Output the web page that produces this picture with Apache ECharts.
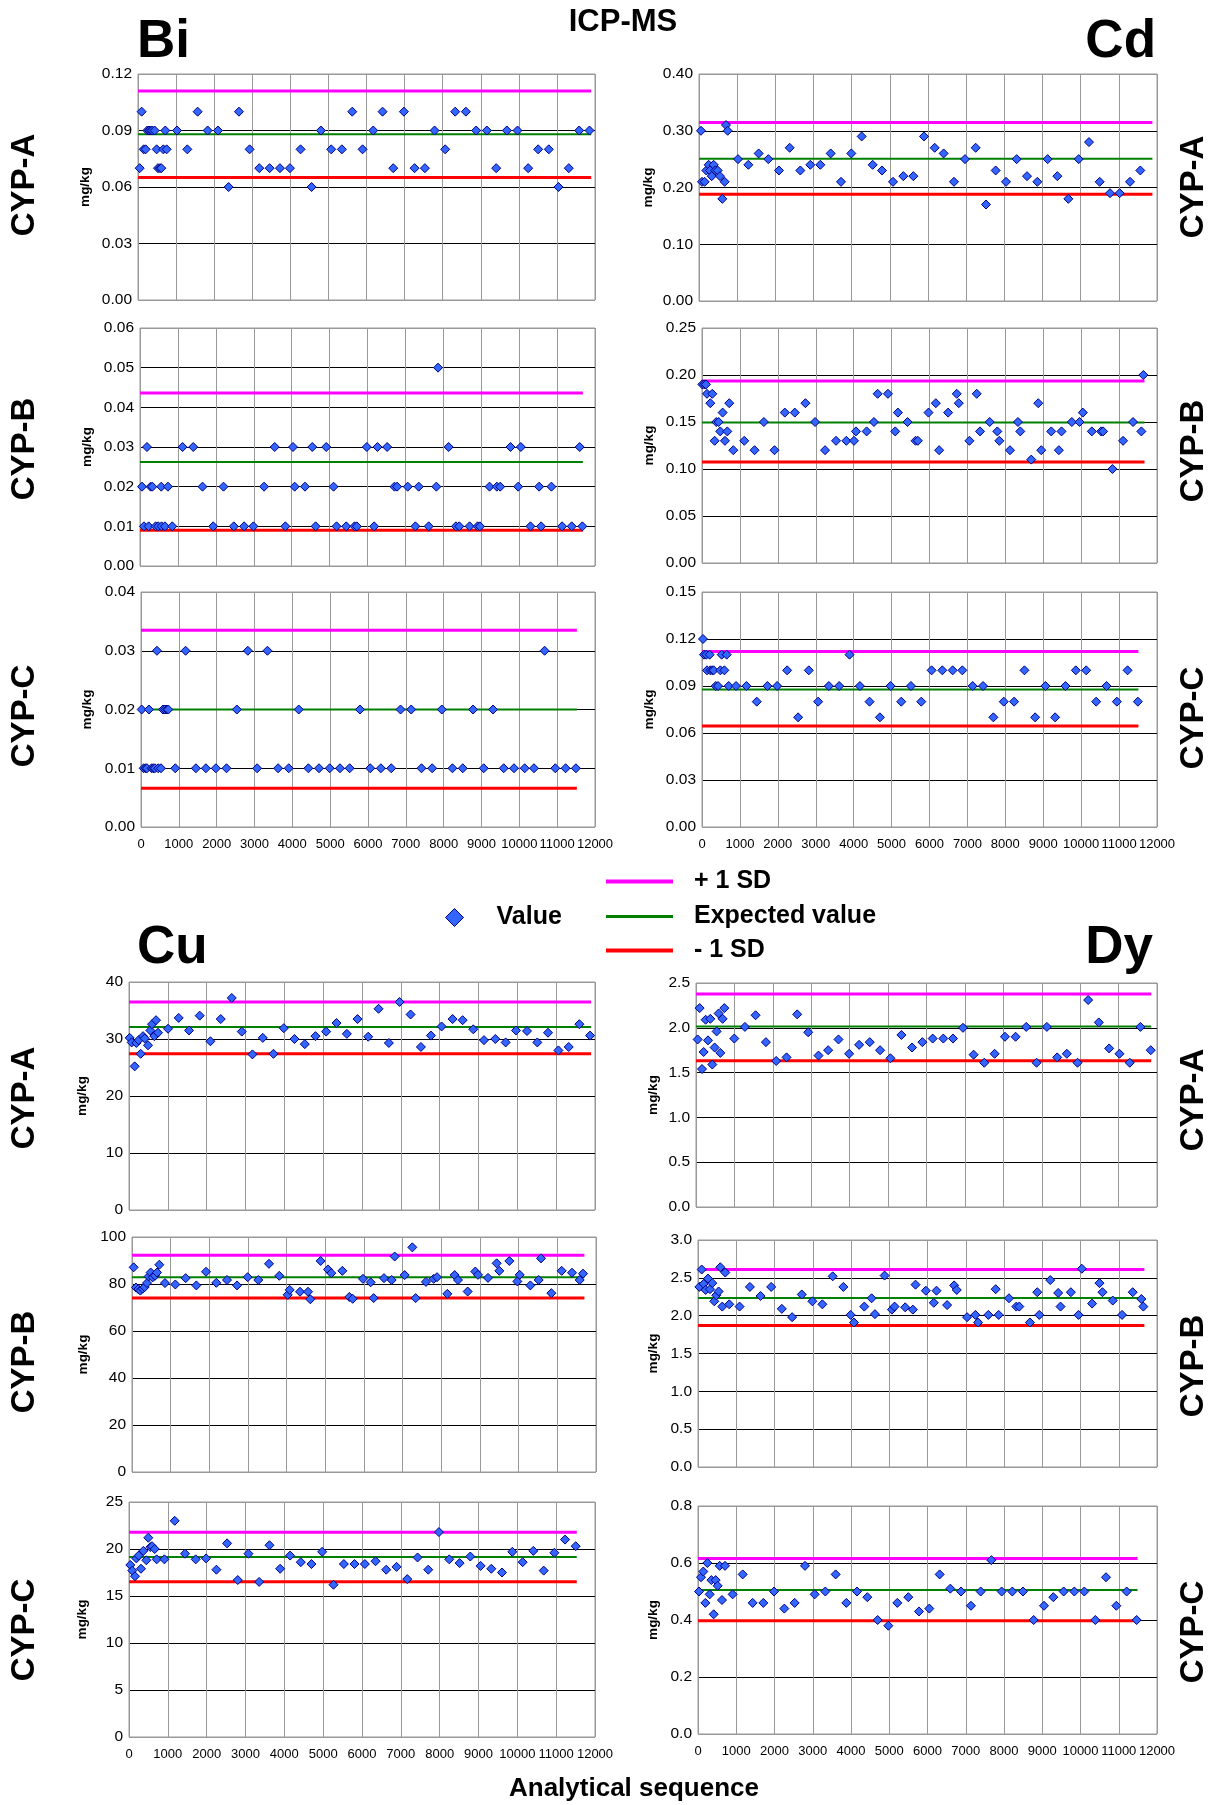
<!DOCTYPE html>
<html><head><meta charset="utf-8">
<script src="https://cdn.jsdelivr.net/npm/echarts@6/dist/echarts.min.js"></script>
<style>html,body{margin:0;padding:0;background:#fff}#c{width:1218px;height:1805px}</style>
</head><body><div id="c"></div>
<script>
// ---------- DATA ----------
const xTicks = [0,1000,2000,3000,4000,5000,6000,7000,8000,9000,10000,11000,12000];
const seriesNames = ['Value','+ 1 SD','Expected value','- 1 SD'];
const rowLabels = ['CYP-A','CYP-B','CYP-C'];

// Bi
const biA_x = [44,96,149,201,245,289,332,376,437,490,525,577,612,665,717,752,1024,1295,1566,1829,2100,2380,2651,2931,3185,3456,3727,3990,4269,4558,4803,5074,5354,5626,5897,6177,6422,6702,6982,7262,7533,7787,8067,8329,8609,8880,9160,9405,9685,9965,10245,10507,10787,11041,11312,11584,11855];
const biA_y = [0.07,0.10,0.08,0.08,0.09,0.09,0.09,0.09,0.09,0.08,0.07,0.07,0.07,0.08,0.09,0.08,0.09,0.08,0.10,0.09,0.09,0.06,0.10,0.08,0.07,0.07,0.07,0.07,0.08,0.06,0.09,0.08,0.08,0.10,0.08,0.09,0.10,0.07,0.10,0.07,0.07,0.09,0.08,0.10,0.10,0.09,0.09,0.07,0.09,0.09,0.07,0.08,0.08,0.06,0.07,0.09,0.09];
const biA_sd = [0.111,0.088,0.065]; const biA_end = 11900;

const biB_x = [53,105,184,228,281,325,412,482,561,570,658,737,851,1123,1404,1649,1930,2202,2474,2746,2991,3272,3553,3833,4035,4079,4351,4544,4632,4912,5105,5184,5439,5658,5719,5982,6175,6263,6518,6711,6781,7061,7263,7351,7614,7816,7860,8140,8333,8421,8693,8904,8965,9219,9412,9500,9772,9974,10044,10298,10526,10579,10851,11132,11386,11596,11667];
const biB_y = [0.02,0.01,0.03,0.01,0.02,0.02,0.01,0.01,0.02,0.01,0.01,0.02,0.01,0.03,0.03,0.02,0.01,0.02,0.01,0.01,0.01,0.02,0.03,0.01,0.03,0.02,0.02,0.03,0.01,0.03,0.02,0.01,0.01,0.01,0.01,0.03,0.01,0.03,0.03,0.02,0.02,0.02,0.01,0.02,0.01,0.02,0.05,0.03,0.01,0.01,0.01,0.01,0.01,0.02,0.02,0.02,0.03,0.02,0.03,0.01,0.02,0.01,0.02,0.01,0.01,0.03,0.01];
const biB_sd = [0.0436,0.0262,0.0090]; const biB_end = 11680;

const biC_x = [18,70,123,158,211,281,325,369,422,457,528,580,633,686,721,906,1179,1451,1715,1979,2260,2533,2823,3069,3342,3624,3905,4169,4424,4705,4987,5259,5515,5787,6060,6341,6614,6860,7142,7414,7696,7951,8232,8505,8777,9059,9305,9587,9859,10141,10387,10668,10950,11223,11495];
const biC_y = [0.02,0.01,0.01,0.01,0.02,0.01,0.01,0.01,0.03,0.01,0.01,0.02,0.02,0.02,0.02,0.01,0.03,0.01,0.01,0.01,0.01,0.02,0.03,0.01,0.03,0.01,0.01,0.02,0.01,0.01,0.01,0.01,0.01,0.02,0.01,0.01,0.01,0.02,0.02,0.01,0.01,0.02,0.01,0.01,0.02,0.01,0.02,0.01,0.01,0.01,0.01,0.03,0.01,0.01,0.01];
const biC_sd = [0.0335,0.0200,0.0066]; const biC_end = 11520;

// Cd
const cdA_x = [52,79,148,192,253,288,332,384,428,489,550,611,672,707,751,1022,1293,1563,1817,2096,2376,2655,2917,3179,3450,3721,3991,4262,4550,4795,5083,5354,5616,5895,6175,6410,6681,6969,7249,7520,7773,8044,8323,8594,8865,9135,9389,9677,9948,10218,10498,10769,11022,11293,11563];
const cdA_y = [0.30,0.21,0.21,0.23,0.24,0.23,0.22,0.24,0.23,0.23,0.22,0.18,0.21,0.31,0.30,0.25,0.24,0.26,0.25,0.23,0.27,0.23,0.24,0.24,0.26,0.21,0.26,0.29,0.24,0.23,0.21,0.22,0.22,0.29,0.27,0.26,0.21,0.25,0.27,0.17,0.23,0.21,0.25,0.22,0.21,0.25,0.22,0.18,0.25,0.28,0.21,0.19,0.19,0.21,0.23];
const cdA_sd = [0.3147,0.2506,0.1882]; const cdA_end = 11880;

const cdB_x = [9,61,105,132,219,272,333,377,439,482,544,605,667,719,825,1114,1386,1632,1912,2184,2447,2728,2982,3246,3535,3807,4009,4061,4342,4535,4632,4904,5096,5167,5421,5632,5693,5974,6167,6254,6491,6719,6772,7053,7246,7333,7588,7789,7842,8123,8333,8395,8684,8868,8947,9211,9412,9482,9754,9956,10044,10281,10526,10579,10825,11105,11368,11588,11640];
const cdB_y = [0.19,0.19,0.19,0.18,0.17,0.18,0.13,0.15,0.15,0.14,0.16,0.13,0.14,0.17,0.12,0.13,0.12,0.15,0.12,0.16,0.16,0.17,0.15,0.12,0.13,0.13,0.13,0.14,0.14,0.15,0.18,0.18,0.14,0.16,0.15,0.13,0.13,0.16,0.17,0.12,0.16,0.18,0.17,0.13,0.18,0.14,0.15,0.14,0.13,0.12,0.15,0.14,0.11,0.17,0.12,0.14,0.12,0.14,0.15,0.15,0.16,0.14,0.14,0.14,0.10,0.13,0.15,0.14,0.20];
const cdB_sd = [0.1936,0.1496,0.1074]; const cdB_end = 11670;

const cdC_x = [26,53,114,132,202,220,273,308,361,423,484,519,590,651,704,898,1171,1444,1725,1981,2245,2535,2817,3063,3345,3618,3891,4164,4419,4692,4974,5255,5511,5783,6056,6338,6611,6866,7139,7412,7685,7958,8231,8504,8785,9058,9313,9586,9859,10132,10396,10669,10942,11224,11496];
const cdC_y = [0.12,0.11,0.11,0.10,0.11,0.10,0.10,0.10,0.09,0.09,0.10,0.11,0.10,0.11,0.09,0.09,0.09,0.08,0.09,0.09,0.10,0.07,0.10,0.08,0.09,0.09,0.11,0.09,0.08,0.07,0.09,0.08,0.09,0.08,0.10,0.10,0.10,0.10,0.09,0.09,0.07,0.08,0.08,0.10,0.07,0.09,0.07,0.09,0.10,0.10,0.08,0.09,0.08,0.10,0.08];
const cdC_sd = [0.1121,0.0877,0.0645]; const cdC_end = 11510;

// Cu
const cuA_x = [17,69,146,189,249,301,361,404,490,550,593,653,696,747,1005,1280,1546,1821,2096,2363,2646,2904,3179,3445,3720,3986,4261,4527,4802,5077,5344,5610,5885,6160,6426,6692,6967,7251,7517,7775,8050,8333,8591,8866,9141,9433,9699,9966,10249,10515,10790,11057,11323,11598,11873];
const cuA_y = [30.2,29.4,25.2,29.3,29.8,27.4,30.5,30.1,28.9,31.5,32.6,30.5,33.3,31.1,31.8,33.7,31.5,34.1,29.6,33.5,37.2,31.3,27.3,30.2,27.4,31.9,30.0,29.1,30.5,31.3,32.8,30.9,33.5,30.4,35.3,29.3,36.5,34.3,28.6,30.6,32.2,33.5,33.3,31.7,29.8,30.0,29.4,31.5,31.4,29.4,31.1,28.0,28.6,32.6,30.6];
const cuA_sd = [36.5,32.1,27.4]; const cuA_end = 11900;

const cuB_x = [43,103,164,216,276,328,388,431,483,534,595,647,707,853,1121,1388,1664,1914,2181,2457,2716,2991,3267,3543,3810,4026,4078,4345,4552,4612,4879,5069,5155,5440,5621,5707,5974,6172,6250,6517,6716,6793,7052,7250,7336,7603,7802,7888,8155,8345,8431,8681,8879,8948,9207,9431,9500,9759,9966,10026,10302,10517,10578,10845,11112,11379,11578,11664];
const cuB_y = [87.1,78.5,77.8,77.2,78.0,78.7,80.4,83.2,84.9,82.8,83.5,84.9,88.2,80.4,79.8,82.5,79.4,85.2,80.5,81.7,79.4,82.9,81.7,88.6,83.5,75.4,77.5,76.7,76.7,73.5,89.8,86.2,84.6,85.6,74.5,73.7,82.2,80.7,74.0,82.5,81.7,91.7,83.8,95.6,74.0,80.9,82.2,82.9,75.8,83.8,81.7,76.8,85.3,83.9,82.6,88.8,85.6,89.8,81.1,83.9,79.4,81.7,90.9,76.1,85.6,84.8,81.7,84.4];
const cuB_sd = [92.2,82.9,74.0]; const cuB_end = 11700;

const cuC_x = [34,86,155,189,249,309,369,447,498,550,593,662,713,911,1177,1443,1718,1985,2251,2526,2801,3076,3351,3617,3892,4149,4424,4699,4974,5266,5533,5808,6074,6349,6624,6890,7165,7431,7706,7981,8247,8514,8789,9055,9330,9605,9871,10137,10412,10679,10954,11229,11503];
const cuC_y = [18.3,17.7,17.1,19.0,19.3,17.9,19.8,18.8,21.2,20.2,20.3,20.0,18.9,18.9,23.0,19.5,18.9,19.0,17.8,20.6,16.7,19.5,16.5,20.4,17.9,19.3,18.6,18.4,19.7,16.2,18.4,18.4,18.4,18.7,17.8,18.1,16.8,19.1,17.8,21.8,18.9,18.5,19.2,18.2,17.9,17.5,19.7,18.6,19.8,17.7,19.6,21.0,20.3];
const cuC_sd = [21.77,19.15,16.52]; const cuC_end = 11530;

// Dy
const dyA_x = [43,95,156,199,251,312,373,425,485,537,589,633,693,737,997,1274,1551,1820,2088,2357,2634,2920,3189,3440,3709,3986,4246,4523,4792,5061,5347,5624,5893,6161,6438,6690,6950,7227,7504,7773,8042,8319,8596,8865,9133,9402,9653,9931,10208,10485,10754,11023,11291,11568,11837];
const dyA_y = [1.87,2.22,1.54,1.73,2.09,1.86,2.10,1.59,1.78,1.96,2.16,1.72,2.10,2.22,1.88,2.01,2.14,1.84,1.63,1.67,2.15,1.95,1.69,1.75,1.87,1.71,1.81,1.84,1.75,1.66,1.92,1.78,1.84,1.88,1.88,1.88,2.00,1.70,1.61,1.71,1.90,1.90,2.01,1.61,2.01,1.67,1.71,1.61,2.31,2.06,1.77,1.71,1.61,2.01,1.75];
const dyA_sd = [2.377,2.015,1.631]; const dyA_end = 11850;

const dyB_x = [35,96,148,200,261,313,374,426,478,539,583,635,713,817,1087,1357,1635,1913,2191,2461,2713,2991,3252,3522,3800,3991,4078,4348,4539,4626,4878,5070,5139,5417,5617,5687,5957,6165,6235,6513,6696,6765,7035,7252,7322,7591,7783,7861,8130,8322,8400,8678,8870,8922,9209,9417,9478,9748,9948,10035,10304,10496,10574,10843,11087,11365,11591,11643];
const dyB_y = [2.38,2.61,2.42,2.34,2.49,2.35,2.43,2.19,2.27,2.32,2.64,2.12,2.57,2.15,2.12,2.38,2.26,2.38,2.09,1.98,2.28,2.19,2.15,2.52,2.38,2.01,1.91,2.12,2.23,2.02,2.53,2.08,2.12,2.11,2.08,2.41,2.33,2.17,2.33,2.14,2.40,2.34,1.98,2.01,1.91,2.01,2.35,2.01,2.23,2.12,2.12,1.91,2.31,2.01,2.47,2.30,2.12,2.31,2.01,2.62,2.16,2.43,2.31,2.20,2.01,2.31,2.22,2.12];
const dyB_sd = [2.609,2.235,1.870]; const dyB_end = 11670;

const dyC_x = [26,78,139,192,244,305,349,410,462,514,566,627,706,906,1168,1429,1708,1987,2257,2527,2797,3050,3329,3599,3878,4157,4427,4697,4976,5211,5499,5778,6048,6318,6597,6876,7137,7390,7669,7939,8218,8497,8776,9046,9290,9560,9839,10100,10388,10667,10937,11207,11468];
const dyC_y = [0.50,0.55,0.57,0.46,0.60,0.49,0.54,0.42,0.54,0.52,0.59,0.47,0.59,0.49,0.56,0.46,0.46,0.50,0.44,0.46,0.59,0.49,0.50,0.56,0.46,0.50,0.48,0.40,0.38,0.46,0.48,0.43,0.44,0.56,0.51,0.50,0.45,0.50,0.61,0.50,0.50,0.50,0.40,0.45,0.48,0.50,0.50,0.50,0.40,0.55,0.45,0.50,0.40];
const dyC_sd = [0.616,0.505,0.397]; const dyC_end = 11490;

// y-axis scales: [max, interval, decimals]
const biA_axis = [0.12,0.03,2], biB_axis = [0.06,0.01,2], biC_axis = [0.04,0.01,2];
const cdA_axis = [0.40,0.10,2], cdB_axis = [0.25,0.05,2], cdC_axis = [0.15,0.03,2];
const cuA_axis = [40,10,0], cuB_axis = [100,20,0], cuC_axis = [25,5,0];
const dyA_axis = [2.5,0.5,1], dyB_axis = [3.0,0.5,1], dyC_axis = [0.8,0.2,1];

// ---------- LAYOUT ----------
const panels = [
  {x:biA_x,y:biA_y,sd:biA_sd,end:biA_end,ax:biA_axis,box:[138,74,457,226],gap:46,xl:false},
  {x:biB_x,y:biB_y,sd:biB_sd,end:biB_end,ax:biB_axis,box:[140,328,455,238],gap:46,xl:false},
  {x:biC_x,y:biC_y,sd:biC_sd,end:biC_end,ax:biC_axis,box:[141,592,454,235],gap:47,xl:true},
  {x:cdA_x,y:cdA_y,sd:cdA_sd,end:cdA_end,ax:cdA_axis,box:[699,74,458,227],gap:44,xl:false},
  {x:cdB_x,y:cdB_y,sd:cdB_sd,end:cdB_end,ax:cdB_axis,box:[702,328,455,235],gap:46,xl:false},
  {x:cdC_x,y:cdC_y,sd:cdC_sd,end:cdC_end,ax:cdC_axis,box:[702,592,455,235],gap:46,xl:true},
  {x:cuA_x,y:cuA_y,sd:cuA_sd,end:cuA_end,ax:cuA_axis,box:[129,982,466,228],gap:40,xl:false},
  {x:cuB_x,y:cuB_y,sd:cuB_sd,end:cuB_end,ax:cuB_axis,box:[132,1237,464,235],gap:42,xl:false},
  {x:cuC_x,y:cuC_y,sd:cuC_sd,end:cuC_end,ax:cuC_axis,box:[129,1502,466,235],gap:40,xl:true},
  {x:dyA_x,y:dyA_y,sd:dyA_sd,end:dyA_end,ax:dyA_axis,box:[696,983,461,224],gap:36,xl:false},
  {x:dyB_x,y:dyB_y,sd:dyB_sd,end:dyB_end,ax:dyB_axis,box:[698,1240,459,227],gap:38,xl:false},
  {x:dyC_x,y:dyC_y,sd:dyC_sd,end:dyC_end,ax:dyC_axis,box:[698,1506,459,228],gap:38,xl:true}
];
const lineColors = ['#ff00ff','#008000','#ff0000'];
const lineWidths = [3,2,3];
const FONT = 'Liberation Sans, Arial, sans-serif';

const grid=[], xAxis=[], yAxis=[], series=[];
panels.forEach((p,i)=>{
  grid.push({left:p.box[0],top:p.box[1],width:p.box[2],height:p.box[3],show:true,borderColor:'#999',borderWidth:1,containLabel:false});
  xAxis.push({type:'value',gridIndex:i,min:xTicks[0],max:xTicks[xTicks.length-1],interval:1000,
    axisLine:{show:false},axisTick:{show:false},
    splitLine:{show:true,lineStyle:{color:'#999',width:1}},
    axisLabel:{show:p.xl,color:'#000',fontSize:13,fontFamily:FONT,margin:11,
      showMinLabel:true,showMaxLabel:true,hideOverlap:false,formatter:v=>String(v)}});
  const n = Math.round(p.ax[0]/p.ax[1]);
  const cols=[]; for(let k=0;k<=n;k++) cols.push(k===0||k===n?'#999':'#000');
  yAxis.push({type:'value',gridIndex:i,min:0,max:p.ax[0],interval:p.ax[1],
    name:'mg/kg',nameLocation:'middle',nameGap:p.gap,nameRotate:90,
    nameTextStyle:{fontSize:13.5,fontWeight:'bold',color:'#000',fontFamily:FONT},
    axisLine:{show:false},axisTick:{show:false},
    splitLine:{show:true,lineStyle:{color:cols,width:1}},
    axisLabel:{color:'#000',fontSize:15.5,fontFamily:FONT,margin:6,formatter:v=>Number(v).toFixed(p.ax[2])}});
  p.sd.forEach((v,k)=>{
    series.push({type:'line',name:seriesNames[k+1],xAxisIndex:i,yAxisIndex:i,symbol:'none',silent:true,z:2,
      color:lineColors[k],lineStyle:{color:lineColors[k],width:lineWidths[k]},
      data:[[0,v],[p.end,v]]});
  });
  series.push({type:'scatter',name:seriesNames[0],xAxisIndex:i,yAxisIndex:i,symbol:'diamond',symbolSize:9,z:5,
    itemStyle:{color:'#3366ff',borderColor:'#000080',borderWidth:1,opacity:1},
    data:p.x.map((xv,j)=>[xv,p.y[j]])});
});

function T(text,x,y,size,opts){
  return Object.assign({type:'text',x:x,y:y,style:{text:text,font:'bold '+size+'px '+FONT,fill:'#000',
    textAlign:(opts&&opts.align)||'center',textVerticalAlign:'middle',verticalAlign:'middle'}},
    opts&&opts.rot?{rotation:Math.PI/2}:{});
}
const graphic = [
  T('ICP-MS',623,22,31),
  T('Bi',137,42,53,{align:'left'}), T('Cd',1156,42,53,{align:'right'}),
  T('Cu',137,948,53,{align:'left'}), T('Dy',1153,948,53,{align:'right'}),
  T(rowLabels[0],25,185,33,{rot:true}), T(rowLabels[1],25,449,33,{rot:true}), T(rowLabels[2],25,716,33,{rot:true}),
  T(rowLabels[0],1194,187,33,{rot:true}), T(rowLabels[1],1194,451,33,{rot:true}), T(rowLabels[2],1194,718,33,{rot:true}),
  T(rowLabels[0],25,1098,33,{rot:true}), T(rowLabels[1],25,1362,33,{rot:true}), T(rowLabels[2],25,1630,33,{rot:true}),
  T(rowLabels[0],1194,1100,33,{rot:true}), T(rowLabels[1],1194,1366,33,{rot:true}), T(rowLabels[2],1194,1632,33,{rot:true}),
  T('Analytical sequence',634,1789,26)
];
const legTxt = {fontSize:25,fontWeight:'bold',color:'#000',fontFamily:FONT};
const legend = [
  {data:['Value'],left:440,top:900,icon:'diamond',itemWidth:18,itemHeight:18,selectedMode:false,
   textStyle:Object.assign({padding:[0,0,0,28]},legTxt),itemStyle:{borderColor:'#000080',borderWidth:1}},
  {data:['+ 1 SD'],left:601,top:864,icon:'rect',itemWidth:67,itemHeight:4,selectedMode:false,textStyle:Object.assign({padding:[0,0,0,16]},legTxt)},
  {data:['Expected value'],left:601,top:899,icon:'rect',itemWidth:67,itemHeight:3,selectedMode:false,textStyle:Object.assign({padding:[0,0,0,16]},legTxt)},
  {data:['- 1 SD'],left:601,top:933,icon:'rect',itemWidth:67,itemHeight:4,selectedMode:false,textStyle:Object.assign({padding:[0,0,0,16]},legTxt)}
];

const chart = echarts.init(document.getElementById('c'),null,{renderer:'canvas'});
chart.setOption({backgroundColor:'#fff',animation:false,grid,xAxis,yAxis,series,legend,graphic});
</script></body></html>
